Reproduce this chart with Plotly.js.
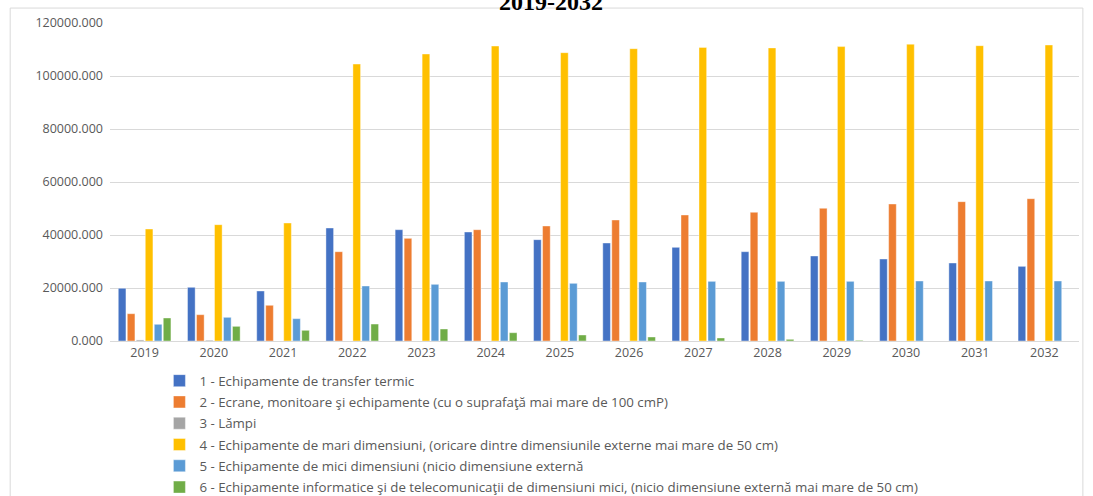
<!DOCTYPE html>
<html>
<head>
<meta charset="utf-8">
<script src="https://cdn.plot.ly/plotly-3.0.1.min.js"></script>
<style>html,body{margin:0;padding:0;background:#fff;overflow:hidden}#chart{width:1093px;height:496px}</style>
</head>
<body>
<div id="chart"></div>
<script>
const years = ['2019','2020','2021','2022','2023','2024','2025','2026','2027','2028','2029','2030','2031','2032'];
const seriesNames = [
  '1 - Echipamente de transfer termic',
  '2 - Ecrane, monitoare şi echipamente (cu o suprafaţă mai mare de 100 cmP)',
  '3 - Lămpi',
  '4 - Echipamente de mari dimensiuni, (oricare dintre dimensiunile externe mai mare de 50 cm)',
  '5 - Echipamente de mici dimensiuni (nicio dimensiune externă',
  '6 - Echipamente informatice şi de telecomunicaţii de dimensiuni mici, (nicio dimensiune externă mai mare de 50 cm)'
];
const s1 = [19900, 20260, 18870, 42640, 42000, 41130, 38240, 36980, 35350, 33700, 32080, 30940, 29430, 28170];
const s2 = [10300, 9930, 13470, 33700, 38740, 42000, 43400, 45660, 47550, 48550, 50060, 51700, 52580, 53700];
const s3 = [400, 300, 0, 0, 0, 0, 0, 0, 0, 0, 0, 0, 0, 0];
const s4 = [42260, 43900, 44530, 104500, 108300, 111300, 108800, 110300, 110800, 110600, 111100, 112000, 111450, 111700];
const s5 = [6300, 8930, 8430, 20750, 21380, 22260, 21760, 22260, 22510, 22510, 22510, 22640, 22640, 22640];
const s6 = [8680, 5530, 4030, 6400, 4530, 3130, 2260, 1510, 1130, 630, 250, 0, 0, 0];
const colors = ['#4472C4', '#ED7D31', '#A5A5A5', '#FFC000', '#5B9BD5', '#70AD47'];
const allSeries = [s1, s2, s3, s4, s5, s6];

const traces = allSeries.map((vals, i) => ({
  type: 'bar',
  name: seriesNames[i],
  x: years,
  y: vals,
  legendgroup: 'g' + i,
  marker: {color: colors[i], line: {color: 'rgba(255,255,255,0.5)', width: 0.8}},
  hoverinfo: 'skip'
}));

const layout = {
  width: 1093, height: 496,
  margin: {l: 110, r: 14, t: 23, b: 155, autoexpand: false},
  paper_bgcolor: '#ffffff', plot_bgcolor: '#ffffff',
  barmode: 'group', bargap: 0.22, bargroupgap: 0.15,
  font: {family: 'Open Sans, sans-serif', color: '#595959'},
  xaxis: {
    type: 'category', showgrid: false, zeroline: false,
    showline: true, linecolor: '#d9d9d9', linewidth: 1,
    ticks: '', tickfont: {size: 12.5, color: '#595959'}
  },
  yaxis: {
    range: [0, 120000], dtick: 20000, tickformat: '.3f',
    showgrid: true, gridcolor: '#d9d9d9', gridwidth: 1,
    zeroline: false, showline: false, ticks: '',
    tickfont: {size: 12.5, color: '#595959'}, ticklabelstandoff: 6
  },
  showlegend: true,
  legend: {
    orientation: 'v', x: 0.051, xanchor: 'left', y: -0.077, yanchor: 'top',
    traceorder: 'grouped', tracegroupgap: 1,
    font: {size: 13.3, color: '#595959', family: 'Open Sans, sans-serif'},
    itemwidth: 30, bgcolor: 'rgba(0,0,0,0)'
  },
  shapes: [{
    type: 'rect', xref: 'paper', yref: 'paper',
    x0: -0.103, x1: 1.004, y0: -0.6, y1: 1.047,
    line: {color: '#d9d9d9', width: 1}, fillcolor: 'rgba(0,0,0,0)', layer: 'below'
  }],
  annotations: [{
    text: '<b>2019-2032</b>', xref: 'paper', yref: 'paper',
    x: 0.455, y: 1.047, xanchor: 'center', yanchor: 'bottom', yshift: -9,
    showarrow: false, font: {family: 'Liberation Serif, serif', size: 24, color: '#000'}
  }]
};

Plotly.newPlot('chart', traces, layout, {staticPlot: true, displayModeBar: false});
</script>
</body>
</html>
